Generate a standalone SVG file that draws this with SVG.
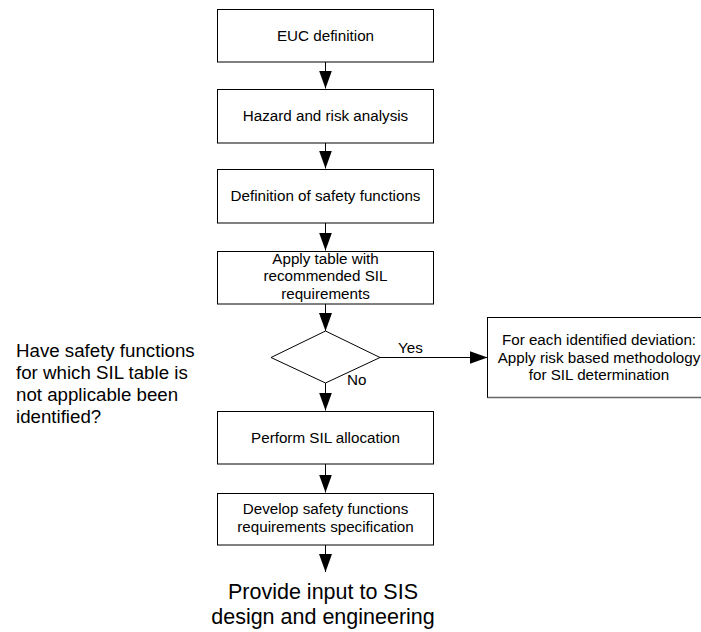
<svg xmlns="http://www.w3.org/2000/svg" width="701" height="632" viewBox="0 0 701 632">
  <style>
    .box { fill: #ffffff; stroke: #000000; stroke-width: 1; }
    .line { fill: none; stroke: #000000; stroke-width: 1; }
    text { font-family: "Liberation Sans", Arial, sans-serif; fill: #000000; }
    .lbl { font-size: 15.2px; text-anchor: middle; }
    .small { font-size: 15.2px; }
    .side { font-size: 18.7px; }
    .big { font-size: 21.5px; text-anchor: middle; }
  </style>
  <defs>
    <marker id="arrow" viewBox="0 0 18 13" refX="18" refY="6.5" markerWidth="18" markerHeight="13" markerUnits="userSpaceOnUse" orient="auto">
      <path d="M0,0 L18,6.5 L0,13 Z" fill="#000000"/>
    </marker>
  </defs>
  <rect width="701" height="632" fill="#ffffff"/>

  <!-- connectors -->
  <g id="connectors">
    <line class="line" x1="325.5" y1="62" x2="325.5" y2="88.5" marker-end="url(#arrow)"/>
    <line class="line" x1="325.5" y1="143" x2="325.5" y2="168.5" marker-end="url(#arrow)"/>
    <line class="line" x1="325.5" y1="223" x2="325.5" y2="250.5" marker-end="url(#arrow)"/>
    <line class="line" x1="325.5" y1="304" x2="325.5" y2="331" marker-end="url(#arrow)"/>
    <line class="line" x1="325.5" y1="383" x2="325.5" y2="410.5" marker-end="url(#arrow)"/>
    <line class="line" x1="325.5" y1="464" x2="325.5" y2="492.5" marker-end="url(#arrow)"/>
    <line class="line" x1="325.5" y1="545" x2="325.5" y2="572" marker-end="url(#arrow)"/>
    <line class="line" x1="380" y1="357.5" x2="487.5" y2="357.5" marker-end="url(#arrow)"/>
    <text class="small" x="398" y="353">Yes</text>
    <text class="small" x="347" y="385">No</text>
  </g>

  <g id="euc-definition">
    <rect class="box" x="217.5" y="9.5" width="216" height="52.5"/>
    <text class="lbl" x="325.5" y="40.5">EUC definition</text>
  </g>

  <g id="hazard-risk-analysis">
    <rect class="box" x="217.5" y="89.5" width="216" height="53.5"/>
    <text class="lbl" x="325.5" y="120.5">Hazard and risk analysis</text>
  </g>

  <g id="safety-functions">
    <rect class="box" x="217.5" y="169.5" width="216" height="53.5"/>
    <text class="lbl" x="325.5" y="201">Definition of safety functions</text>
  </g>

  <g id="sil-table">
    <rect class="box" x="217.5" y="251.5" width="216" height="52.5"/>
    <text class="lbl" x="325.5" y="263.5">Apply table with</text>
    <text class="lbl" x="325.5" y="281">recommended SIL</text>
    <text class="lbl" x="325.5" y="298.5">requirements</text>
  </g>

  <g id="decision">
    <polygon class="box" points="325.5,331 380,357.5 325.5,383 271,357.5"/>
  </g>

  <g id="question">
    <text class="side" x="16" y="357">Have safety functions</text>
    <text class="side" x="16" y="379">for which SIL table is</text>
    <text class="side" x="16" y="401">not applicable been</text>
    <text class="side" x="16" y="423">identified?</text>
  </g>

  <g id="risk-based">
    <rect class="box" x="487.5" y="317.5" width="220" height="80"/>
    <line x1="487.5" y1="397.5" x2="707" y2="397.5" stroke="#666666" stroke-width="1.5"/>
    <text class="lbl" x="599" y="345">For each identified deviation:</text>
    <text class="lbl" x="599" y="362.5">Apply risk based methodology</text>
    <text class="lbl" x="599" y="380">for SIL determination</text>
  </g>

  <g id="sil-allocation">
    <rect class="box" x="217.5" y="411.5" width="216" height="52.5"/>
    <text class="lbl" x="325.5" y="442.5">Perform SIL allocation</text>
  </g>

  <g id="requirements-spec">
    <rect class="box" x="217.5" y="493.5" width="216" height="51.5"/>
    <text class="lbl" x="325.5" y="514">Develop safety functions</text>
    <text class="lbl" x="325.5" y="532">requirements specification</text>
  </g>

  <g id="sis-design">
    <text class="big" x="323" y="599">Provide input to SIS</text>
    <text class="big" x="323" y="623.5">design and engineering</text>
  </g>
</svg>
